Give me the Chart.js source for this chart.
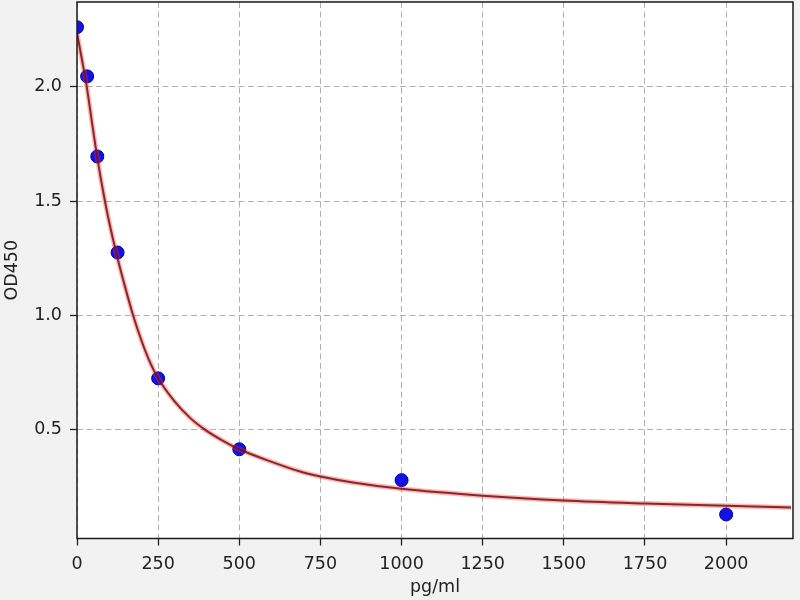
<!DOCTYPE html>
<html>
<head>
<meta charset="utf-8">
<script src="https://cdn.jsdelivr.net/npm/chart.js@4/dist/chart.umd.min.js"></script>
<style>
  html, body { margin: 0; padding: 0; background: #f2f2f2; }
  #wrap { width: 800px; height: 600px; }
</style>
</head>
<body>
<div id="wrap"><canvas id="c" width="800" height="600"></canvas></div>
<script>
// Standard points (concentration pg/ml, OD450)
const concentrations = [0, 31.25, 62.5, 125, 250, 500, 1000, 2000];
const odValues = [2.26, 2.045, 1.695, 1.275, 0.725, 0.415, 0.28, 0.13];

// Fitted curve
const curveX = [0, 15, 30, 45, 62.5, 86, 105, 125, 150, 173, 200, 225, 250, 300, 350, 395, 450, 500, 600, 687, 750, 850, 1000, 1250, 1500, 1750, 2000, 2200];
const curveY = [2.235, 2.12, 2.00, 1.855, 1.69, 1.50, 1.37, 1.25, 1.115, 1.00, 0.885, 0.795, 0.725, 0.625, 0.55, 0.50, 0.452, 0.415, 0.36, 0.318, 0.296, 0.27, 0.242, 0.212, 0.191, 0.178, 0.168, 0.160];

// Tick labels
const xTicks = [0, 250, 500, 750, 1000, 1250, 1500, 1750, 2000];
const yTicks = [0.5, 1.0, 1.5, 2.0];
const yTickLabels = ['0.5', '1.0', '1.5', '2.0'];

const xTitle = 'pg/ml';
const yTitle = 'OD450';

const pointsData = concentrations.map((x, i) => ({x: x, y: odValues[i]}));
const curveData = curveX.map((x, i) => ({x: x, y: curveY[i]}));

const FONT = 'DejaVu Sans';

const bgPlugin = {
  id: 'bg',
  beforeDraw(chart) {
    const {ctx, chartArea: a} = chart;
    ctx.save();
    ctx.fillStyle = '#f2f2f2';
    ctx.fillRect(0, 0, chart.width, chart.height);
    ctx.fillStyle = '#ffffff';
    ctx.fillRect(a.left, a.top, a.right - a.left, a.bottom - a.top);
    ctx.restore();
  },
  afterDraw(chart) {
    const {ctx, chartArea: a} = chart;
    ctx.save();
    ctx.strokeStyle = '#1a1a1a';
    ctx.lineWidth = 1.5;
    ctx.setLineDash([]);
    ctx.strokeRect(a.left, a.top, a.right - a.left, a.bottom - a.top);
    ctx.restore();
  }
};

function noPad(scale) {
  scale.paddingTop = 0; scale.paddingBottom = 0;
  scale.paddingLeft = 0; scale.paddingRight = 0;
}

new Chart(document.getElementById('c'), {
  type: 'scatter',
  data: {
    datasets: [
      {
        label: 'fit-core',
        data: curveData,
        showLine: true,
        borderColor: 'rgba(120,12,12,0.85)',
        borderWidth: 2,
        pointRadius: 0,
        fill: false,
        cubicInterpolationMode: 'monotone',
        clip: 0,
        order: 0
      },
      {
        label: 'fit-glow',
        data: curveData,
        showLine: true,
        borderColor: 'rgba(240,60,60,0.35)',
        borderWidth: 5,
        pointRadius: 0,
        fill: false,
        cubicInterpolationMode: 'monotone',
        clip: 0,
        order: 1
      },
      {
        label: 'standards',
        data: pointsData,
        showLine: false,
        pointRadius: 6.5,
        pointBackgroundColor: '#1212e6',
        pointBorderColor: '#0000a8',
        pointBorderWidth: 1,
        clip: 0,
        order: 2
      }
    ]
  },
  options: {
    responsive: false,
    animation: false,
    devicePixelRatio: 1,
    layout: { autoPadding: false, padding: { top: 2, right: 7, left: 0, bottom: 0 } },
    plugins: {
      legend: { display: false },
      tooltip: { enabled: false }
    },
    scales: {
      x: {
        type: 'linear',
        min: 0,
        max: 2206,
        afterFit(scale) { scale.height = 61.5; noPad(scale); },
        afterBuildTicks(scale) { scale.ticks = xTicks.map(v => ({value: v})); },
        ticks: {
          color: '#222',
          font: { family: FONT, size: 17.5 },
          padding: 8,
          maxRotation: 0,
          autoSkip: false,
          callback: (v) => String(v)
        },
        grid: {
          color: '#b0b0b0',
          lineWidth: 1,
          tickLength: 7,
          tickColor: '#222',
          tickWidth: 1.3,
          tickBorderDash: []
        },
        border: { display: false, dash: [6, 3.5] },
        title: {
          display: true,
          text: xTitle,
          color: '#222',
          font: { family: FONT, size: 17.5 },
          padding: { top: 0, bottom: 2 }
        }
      },
      y: {
        type: 'linear',
        min: 0.025,
        max: 2.37,
        afterFit(scale) { scale.width = 77; noPad(scale); },
        afterBuildTicks(scale) { scale.ticks = yTicks.map(v => ({value: v})); },
        ticks: {
          color: '#222',
          font: { family: FONT, size: 17.5 },
          padding: 8,
          autoSkip: false,
          callback: (v) => { const i = yTicks.indexOf(v); return i >= 0 ? yTickLabels[i] : ''; }
        },
        grid: {
          color: '#b0b0b0',
          lineWidth: 1,
          tickLength: 7,
          tickColor: '#222',
          tickWidth: 1.3,
          tickBorderDash: []
        },
        border: { display: false, dash: [6, 3.5] },
        title: {
          display: true,
          text: yTitle,
          color: '#222',
          font: { family: FONT, size: 17.5 },
          padding: { top: 2, bottom: 0 }
        }
      }
    }
  },
  plugins: [bgPlugin]
});
</script>
</body>
</html>
